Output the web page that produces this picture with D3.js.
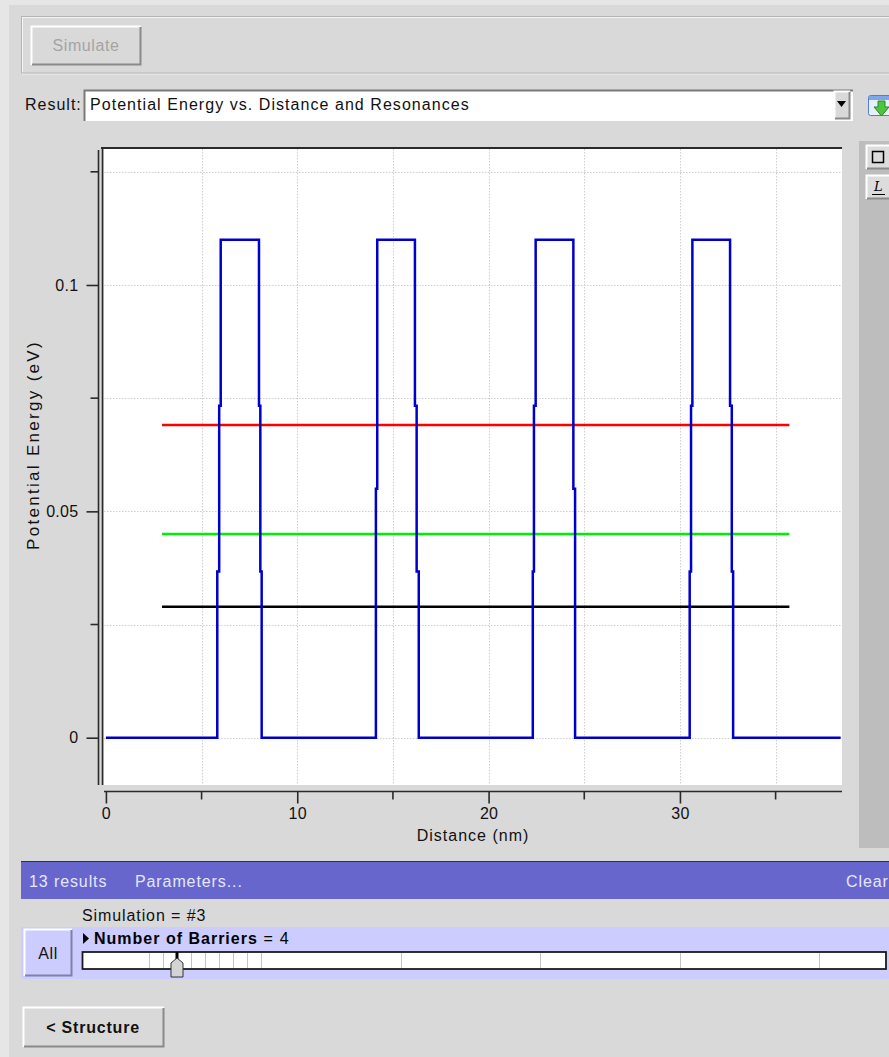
<!DOCTYPE html>
<html>
<head>
<meta charset="utf-8">
<script src="https://cdn.jsdelivr.net/npm/d3@7"></script>
<style>
  html, body { margin: 0; padding: 0; background: #e6e6e6; }
  svg { display: block; }
  text { font-family: "Liberation Sans", Arial, Helvetica, sans-serif; }
</style>
</head>
<body>
<svg id="app" width="889" height="1057"></svg>
<script>
// Potential profile along the structure (nm, eV)
const distance = [0, 5.82, 5.82, 5.92, 5.92, 6.00, 6.00, 8.00, 8.00, 8.07, 8.07, 8.14, 8.14,
  14.11, 14.11, 14.18, 14.18, 16.15, 16.15, 16.24, 16.24, 16.35, 16.35,
  22.31, 22.31, 22.37, 22.37, 22.46, 22.46, 24.43, 24.43, 24.52, 24.52,
  30.51, 30.51, 30.58, 30.58, 30.65, 30.65, 32.62, 32.62, 32.71, 32.71, 32.78, 32.78, 38.4];
const potential = [0, 0, 0.0367, 0.0367, 0.0733, 0.0733, 0.11, 0.11, 0.0733, 0.0733, 0.0367, 0.0367, 0,
  0, 0.055, 0.055, 0.11, 0.11, 0.0733, 0.0733, 0.0367, 0.0367, 0,
  0, 0.0367, 0.0367, 0.0733, 0.0733, 0.11, 0.11, 0.055, 0.055, 0,
  0, 0.0367, 0.0367, 0.0733, 0.0733, 0.11, 0.11, 0.0733, 0.0733, 0.0367, 0.0367, 0, 0];

// Resonance energies (eV) and the span they are drawn over (nm)
const resonanceEnergy = [0.0289, 0.045, 0.0691];
const resonanceColor = ["#000000", "#00ee00", "#ff0000"];
const resonanceSpan = [2.93, 35.72];

// Axis ticks
const xMajorTicks = [0, 10, 20, 30];
const xMinorTicks = [5, 15, 25, 35];
const xTickLabels = ["0", "10", "20", "30"];
const yMajorTicks = [0, 0.05, 0.1];
const yMinorTicks = [0.025, 0.075, 0.125];
const yTickLabels = ["0", "0.05", "0.1"];

// Parameter slider values (number of barriers per result)
const barrierValues = [2, 3, 4, 5, 6, 7, 8, 9, 10, 20, 30, 40, 50];
const selectedBarriers = 4;

const svg = d3.select("#app");

// ---------- window chrome ----------
svg.append("rect").attr("x", 9).attr("y", 5).attr("width", 880).attr("height", 1052).attr("fill", "#d9d9d9");

// group box around the Simulate button
svg.append("rect").attr("x", 22.5).attr("y", 17.5).attr("width", 880).attr("height", 56.5)
  .attr("fill", "none").attr("stroke", "#f4f4f4");
svg.append("rect").attr("x", 21.5).attr("y", 16.5).attr("width", 880).attr("height", 56.5)
  .attr("fill", "none").attr("stroke", "#b4b4b4");

function raisedButton(x, y, w, h, face, light, dark) {
  const g = svg.append("g");
  g.append("rect").attr("x", x).attr("y", y).attr("width", w).attr("height", h).attr("fill", face);
  g.append("path").attr("d", `M${x + 0.5},${y + h} V${y + 0.5} H${x + w}`).attr("fill", "none")
    .attr("stroke", light).attr("stroke-width", 2);
  g.append("path").attr("d", `M${x + 1},${y + h - 0.5} H${x + w - 0.5} V${y + 1}`).attr("fill", "none")
    .attr("stroke", dark).attr("stroke-width", 2);
  return g;
}

raisedButton(31, 26, 110, 39, "#d9d9d9", "#ffffff", "#8a8a8a");
svg.append("text").attr("x", 86).attr("y", 51).attr("text-anchor", "middle")
  .attr("font-size", 16).attr("letter-spacing", 0.6).attr("fill", "#a4a4a4").text("Simulate");

// result selector
svg.append("text").attr("x", 25).attr("y", 110).attr("font-size", 16).attr("letter-spacing", 1)
  .attr("fill", "#111").text("Result:");
svg.append("rect").attr("x", 84).attr("y", 90).attr("width", 769).attr("height", 31).attr("fill", "#ffffff");
svg.append("path").attr("d", "M84.5,121 V90.5 H853").attr("fill", "none").attr("stroke", "#7a7a7a").attr("stroke-width", 2);
svg.append("text").attr("x", 90).attr("y", 110).attr("font-size", 16).attr("letter-spacing", 1.05)
  .attr("fill", "#111").text("Potential Energy vs. Distance and Resonances");
raisedButton(834, 91, 16, 28, "#d9d9d9", "#ffffff", "#8a8a8a");
svg.append("path").attr("d", "M837,101 H846 L841.5,107 Z").attr("fill", "#000");

// download icon
svg.append("rect").attr("x", 868.5).attr("y", 95.5).attr("width", 24).attr("height", 20).attr("rx", 2)
  .attr("fill", "#e8f0ff").attr("stroke", "#4f7fd0");
svg.append("rect").attr("x", 869).attr("y", 96).attr("width", 24).attr("height", 4).attr("fill", "#7fa6e8");
svg.append("path").attr("d", "M878,101 H885 V107 H889 L881.5,116 L874,107 H878 Z")
  .attr("fill", "#4cc63c").attr("stroke", "#2a8a22").attr("stroke-width", 1);

// side tool panel
svg.append("rect").attr("x", 859).attr("y", 141).attr("width", 30).attr("height", 707).attr("fill", "#bdbdbd");
raisedButton(866, 145, 26, 24, "#dcdcdc", "#ffffff", "#8a8a8a");
svg.append("rect").attr("x", 872.5).attr("y", 151.5).attr("width", 11).attr("height", 11)
  .attr("fill", "none").attr("stroke", "#000").attr("stroke-width", 1.5);
raisedButton(866, 175, 26, 24, "#dcdcdc", "#ffffff", "#8a8a8a");
svg.append("text").attr("x", 874).attr("y", 191).attr("font-size", 13).attr("font-style", "italic")
  .style("font-family", "'DejaVu Serif', serif").attr("fill", "#000").text("L");
svg.append("line").attr("x1", 872).attr("x2", 885).attr("y1", 194.5).attr("y2", 194.5).attr("stroke", "#000");

// ---------- plot ----------
const plotLeft = 104, plotRight = 842, plotTop = 149, plotBottom = 785;
const x = d3.scaleLinear().domain([-0.1, 38.47]).range([plotLeft, plotRight]);
const y = d3.scaleLinear().domain([-0.01045, 0.13004]).range([plotBottom, plotTop]);

svg.append("rect").attr("x", plotLeft).attr("y", plotTop).attr("width", plotRight - plotLeft)
  .attr("height", plotBottom - plotTop).attr("fill", "#ffffff");

// dotted grid
const grid = svg.append("g").attr("stroke", "#cfcfcf").attr("stroke-width", 1).attr("stroke-dasharray", "1.5,1.5");
grid.selectAll("line.v").data(xMajorTicks.concat(xMinorTicks).filter(d => d > 0)).join("line")
  .attr("x1", d => Math.round(x(d)) + 0.5).attr("x2", d => Math.round(x(d)) + 0.5)
  .attr("y1", plotTop).attr("y2", plotBottom);
grid.selectAll("line.h").data(yMajorTicks.concat(yMinorTicks)).join("line")
  .attr("y1", d => Math.round(y(d)) + 0.5).attr("y2", d => Math.round(y(d)) + 0.5)
  .attr("x1", plotLeft).attr("x2", plotRight);

// resonance levels
svg.append("g").selectAll("line").data(resonanceEnergy).join("line")
  .attr("x1", x(resonanceSpan[0])).attr("x2", x(resonanceSpan[1]))
  .attr("y1", d => y(d)).attr("y2", d => y(d))
  .attr("stroke", (d, i) => resonanceColor[i]).attr("stroke-width", 2.5);

// potential profile
const profile = d3.line().x(d => x(d[0])).y(d => y(d[1]));
svg.append("path").datum(d3.zip(distance, potential)).attr("d", profile)
  .attr("fill", "none").attr("stroke", "#0000cc").attr("stroke-width", 2.5).attr("stroke-linejoin", "miter");

// frame: top border and double left border
svg.append("line").attr("x1", 101).attr("x2", plotRight).attr("y1", 148).attr("y2", 148)
  .attr("stroke", "#2a2a2a").attr("stroke-width", 2);
svg.append("line").attr("x1", 102.5).attr("x2", 102.5).attr("y1", 147).attr("y2", plotBottom)
  .attr("stroke", "#2a2a2a").attr("stroke-width", 1.6);

// y axis
const yAxis = d3.axisLeft(y).tickValues(yMajorTicks).tickSize(12).tickPadding(8)
  .tickFormat((d, i) => yTickLabels[i]);
const gy = svg.append("g").attr("transform", "translate(98.5,0)").call(yAxis);
gy.select(".domain").attr("d", `M0,150 V${plotBottom}`).attr("stroke", "#2a2a2a").attr("stroke-width", 1.6);
gy.selectAll(".tick line").attr("stroke", "#2a2a2a").attr("stroke-width", 1.6);
gy.selectAll(".tick text").attr("font-size", 16).attr("fill", "#111").attr("letter-spacing", 0.3)
  .style("font-family", "'Liberation Sans', Arial, sans-serif");
gy.append("g").selectAll("line").data(yMinorTicks).join("line")
  .attr("x1", -8).attr("x2", 0).attr("y1", d => y(d)).attr("y2", d => y(d))
  .attr("stroke", "#2a2a2a").attr("stroke-width", 1.6);

// x axis
const xAxis = d3.axisBottom(x).tickValues(xMajorTicks).tickSize(12).tickPadding(4)
  .tickFormat((d, i) => xTickLabels[i]);
const gx = svg.append("g").attr("transform", "translate(0,791.5)").call(xAxis);
gx.select(".domain").attr("d", `M${plotLeft},0 H${plotRight}`).attr("stroke", "#2a2a2a").attr("stroke-width", 1.6);
gx.selectAll(".tick line").attr("stroke", "#2a2a2a").attr("stroke-width", 1.6);
gx.selectAll(".tick text").attr("font-size", 16).attr("fill", "#111").attr("letter-spacing", 0.3)
  .style("font-family", "'Liberation Sans', Arial, sans-serif");
gx.append("g").selectAll("line").data(xMinorTicks).join("line")
  .attr("x1", d => x(d)).attr("x2", d => x(d)).attr("y1", 0).attr("y2", 8)
  .attr("stroke", "#2a2a2a").attr("stroke-width", 1.6);

// axis titles
svg.append("text").attr("x", 473).attr("y", 841).attr("text-anchor", "middle")
  .attr("font-size", 16).attr("letter-spacing", 1).attr("fill", "#111").text("Distance (nm)");
svg.append("text").attr("transform", "translate(39,445) rotate(-90)").attr("text-anchor", "middle")
  .attr("font-size", 17).attr("letter-spacing", 2.3).attr("fill", "#111").text("Potential Energy (eV)");

// ---------- results bar ----------
svg.append("rect").attr("x", 21).attr("y", 861).attr("width", 868).attr("height", 38).attr("fill", "#6666cc");
svg.append("line").attr("x1", 21).attr("x2", 889).attr("y1", 861.5).attr("y2", 861.5).attr("stroke", "#333");
svg.append("text").attr("x", 29).attr("y", 887).attr("font-size", 16).attr("letter-spacing", 0.9)
  .attr("fill", "#e6e6ff").text("13 results");
svg.append("text").attr("x", 135).attr("y", 887).attr("font-size", 16).attr("letter-spacing", 0.9)
  .attr("fill", "#e6e6ff").text("Parameters...");
svg.append("text").attr("x", 846).attr("y", 887).attr("font-size", 16).attr("letter-spacing", 0.9)
  .attr("fill", "#e6e6ff").text("Clear");

svg.append("text").attr("x", 82).attr("y", 921).attr("font-size", 16).attr("letter-spacing", 0.9)
  .attr("fill", "#111").text("Simulation = #3");

svg.append("rect").attr("x", 21).attr("y", 927).attr("width", 868).attr("height", 52).attr("fill", "#ccccff");
raisedButton(24, 929, 48, 47, "#ccccff", "#ffffff", "#8080a8");
svg.append("text").attr("x", 48).attr("y", 959).attr("text-anchor", "middle").attr("font-size", 16)
  .attr("letter-spacing", 0.6).attr("fill", "#111").text("All");

svg.append("path").attr("d", "M83,933 L89,938.5 L83,944 Z").attr("fill", "#000");
const paramLabel = svg.append("text").attr("x", 94).attr("y", 944).attr("font-size", 16).attr("fill", "#000");
paramLabel.append("tspan").attr("font-weight", "bold").attr("letter-spacing", 1.0).text("Number of Barriers");
paramLabel.append("tspan").attr("letter-spacing", 1.2).text(" = " + selectedBarriers);

// slider
const sx = d3.scaleLinear().domain([10, 50]).range([261, 819]);
const sxLow = d3.scaleLinear().domain([2, 10]).range([149, 261]);
const sliderPos = d => d <= 10 ? sxLow(d) : sx(d);
svg.append("rect").attr("x", 82).attr("y", 952).attr("width", 804).attr("height", 17).attr("fill", "#ffffff");
svg.append("g").selectAll("line").data(barrierValues).join("line")
  .attr("x1", d => Math.round(sliderPos(d)) + 0.5).attr("x2", d => Math.round(sliderPos(d)) + 0.5)
  .attr("y1", 953).attr("y2", 968).attr("stroke", "#c4c4c4");
svg.append("rect").attr("x", 82.5).attr("y", 952).attr("width", 803.5).attr("height", 17)
  .attr("fill", "none").attr("stroke", "#1a1a1a").attr("stroke-width", 1.8);
const tx = sliderPos(selectedBarriers);
svg.append("line").attr("x1", tx).attr("x2", tx).attr("y1", 952).attr("y2", 963)
  .attr("stroke", "#000").attr("stroke-width", 3);
svg.append("path").attr("d", `M${tx},958 L${tx + 6},963 V977 H${tx - 6} V963 Z`)
  .attr("fill", "#d4d4d4").attr("stroke", "#333").attr("stroke-width", 1);

// back button
raisedButton(23, 1007, 141, 40, "#d9d9d9", "#ffffff", "#8a8a8a");
svg.append("text").attr("x", 93).attr("y", 1033).attr("text-anchor", "middle").attr("font-size", 16)
  .attr("font-weight", "bold").attr("letter-spacing", 0.8).attr("fill", "#111").text("< Structure");
</script>
</body>
</html>
